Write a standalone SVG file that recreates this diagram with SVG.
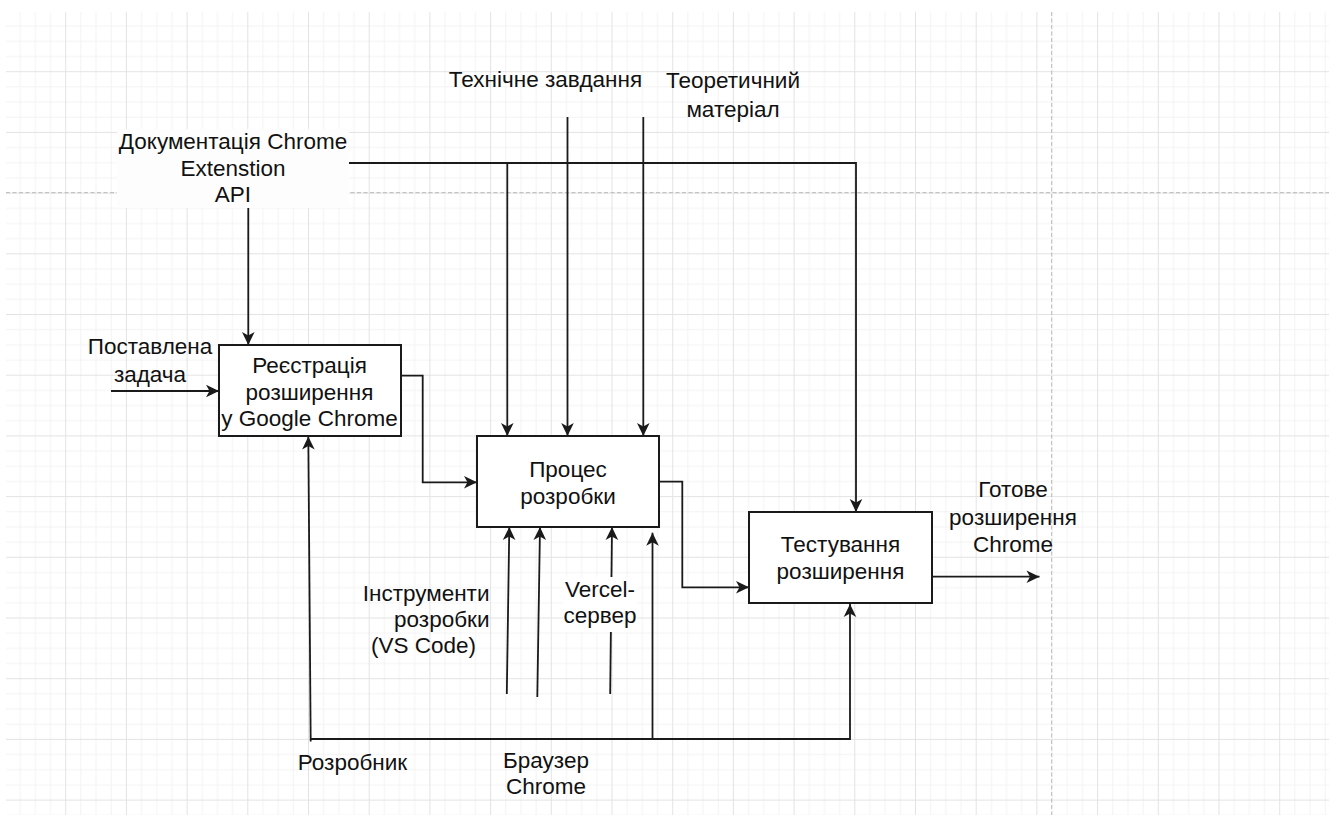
<svg xmlns="http://www.w3.org/2000/svg" width="1329" height="815" viewBox="0 0 1329 815">
  <style>
    text { font-family: "Liberation Sans", Arial, sans-serif; font-size: 22.5px; fill: #111; text-anchor: middle; }
    .box { fill: #ffffff; stroke: #1a1a1a; stroke-width: 2; }
    .conn { fill: none; stroke: #1a1a1a; stroke-width: 1.8; }
    .arrow { marker-end: url(#arr); }
    .brk { stroke: #b8b8b8; stroke-width: 1; stroke-dasharray: 4 2.5; fill: none; }
  </style>
  <defs>
    <pattern id="grid" x="4.5" y="10.5" width="60.7" height="60.7" patternUnits="userSpaceOnUse">
      <path d="M15.675 0V60.7M30.85 0V60.7M46.025 0V60.7M0 15.675H60.7M0 30.85H60.7M0 46.025H60.7" stroke="#f3f3f3" stroke-width="1" fill="none"/>
      <path d="M0.5 0V60.7M0 0.5H60.7" stroke="#e3e3e3" stroke-width="1" fill="none"/>
    </pattern>
    <marker id="arr" viewBox="-14 -8 15 16" markerWidth="15" markerHeight="16" refX="0" refY="0" orient="auto" markerUnits="userSpaceOnUse">
      <path d="M0,0 L-13,-6.3 L-9.5,0 L-13,6.3 Z" fill="#1a1a1a"/>
    </marker>
  </defs>

  <rect x="0" y="0" width="1329" height="815" fill="#ffffff"/>
  <rect x="6" y="12" width="1323" height="803" fill="url(#grid)"/>
  <path class="brk" d="M6 192.7H1329M1051.7 12V815"/>

  <g id="connectors">
    <path class="conn arrow" d="M111 391H219"/>
    <path class="conn arrow" d="M401 375.7H422.7V482.3H477"/>
    <path class="conn arrow" d="M659 481.7H682.3V587.3H749"/>
    <path class="conn arrow" d="M932 576.7H1039.5"/>
    <path class="conn arrow" d="M248.3 208V345"/>
    <path class="conn arrow" d="M310 163H856V512"/>
    <path class="conn arrow" d="M507.3 163V436"/>
    <path class="conn arrow" d="M567.5 117V436"/>
    <path class="conn arrow" d="M643.3 117V436"/>
    <path class="conn arrow" d="M506.8 694L509.3 527"/>
    <path class="conn arrow" d="M537.3 697L540 527"/>
    <path class="conn arrow" d="M610.2 694L612 527"/>
    <path class="conn arrow" d="M652.5 739V532.7"/>
    <path class="conn arrow" d="M310.7 741.5L308.3 436.5"/>
    <path class="conn arrow" d="M310.7 739H850V604"/>
  </g>

  <g id="label-doc">
    <rect x="117" y="129" width="232" height="79" fill="#fdfdfd"/>
    <text x="233" y="149">Документація Chrome</text>
    <text x="233" y="176">Extenstion</text>
    <text x="233" y="202">API</text>
  </g>
  <g id="label-tz">
    <text x="545.5" y="87">Технічне завдання</text>
  </g>
  <g id="label-theory">
    <text x="733" y="88">Теоретичний</text>
    <text x="733" y="116.5">матеріал</text>
  </g>
  <g id="label-task">
    <text x="150" y="354">Поставлена</text>
    <text x="150" y="381.5">задача</text>
  </g>

  <g id="node-registration">
    <rect class="box" x="219" y="345" width="182" height="91"/>
    <text x="309.5" y="373">Реєстрація</text>
    <text x="309.5" y="399.5">розширення</text>
    <text x="309.5" y="426">у Google Chrome</text>
  </g>
  <g id="node-development">
    <rect class="box" x="477" y="436" width="182" height="91"/>
    <text x="568" y="476.5">Процес</text>
    <text x="568" y="503.5">розробки</text>
  </g>
  <g id="node-testing">
    <rect class="box" x="749" y="512" width="183" height="91"/>
    <text x="840.5" y="551.5">Тестування</text>
    <text x="840.5" y="579">розширення</text>
  </g>

  <g id="label-output">
    <text x="1013" y="497">Готове</text>
    <text x="1013" y="525">розширення</text>
    <text x="1013" y="551.5">Chrome</text>
  </g>
  <g id="label-tools">
    <text x="489.5" y="601" style="text-anchor:end">Інструменти</text>
    <text x="489.5" y="627" style="text-anchor:end">розробки</text>
    <text x="423.5" y="653">(VS Code)</text>
  </g>
  <g id="label-vercel">
    <rect x="563" y="577" width="74" height="55" fill="#ffffff"/>
    <text x="600" y="597">Vercel-</text>
    <text x="600" y="623">сервер</text>
  </g>
  <g id="label-developer">
    <text x="352.5" y="770">Розробник</text>
  </g>
  <g id="label-browser">
    <text x="546" y="768">Браузер</text>
    <text x="546" y="793.5">Chrome</text>
  </g>
</svg>
